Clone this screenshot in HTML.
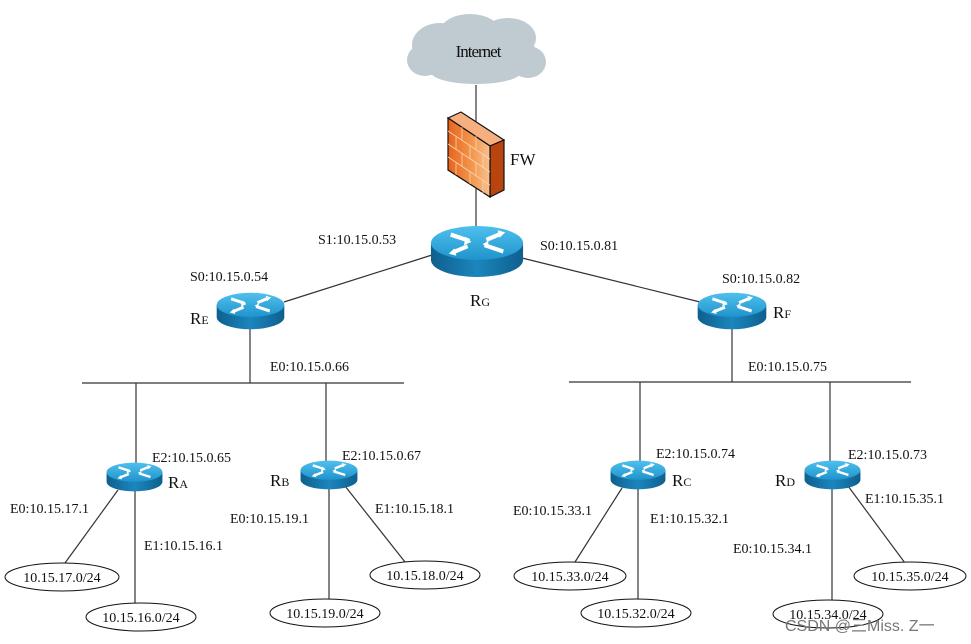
<!DOCTYPE html>
<html><head><meta charset="utf-8"><style>
body{margin:0;background:#fff}
svg text{font-family:"Liberation Serif",serif;font-size:14px;fill:#111}
</style></head><body>
<svg width="971" height="639" viewBox="0 0 971 639" xmlns="http://www.w3.org/2000/svg">
<defs>
<linearGradient id="tg" x1="0" y1="0" x2="0" y2="1"><stop offset="0" stop-color="#4fc0ee"/><stop offset="1" stop-color="#1f93cc"/></linearGradient>
<linearGradient id="bg" x1="0" y1="0" x2="1" y2="0"><stop offset="0" stop-color="#0f5f8e"/><stop offset=".5" stop-color="#1b86bd"/><stop offset="1" stop-color="#0f5f8e"/></linearGradient>
<linearGradient id="fwg" x1="0" y1="0" x2="1" y2="0"><stop offset="0" stop-color="#e8631c"/><stop offset=".6" stop-color="#f39a50"/><stop offset="1" stop-color="#f8c090"/></linearGradient>
<symbol id="rt" viewBox="0 0 100 50" preserveAspectRatio="none">
<path d="M1,17 L1,33 A49,16 0 0 0 99,33 L99,17 Z" fill="url(#bg)"/>
<ellipse cx="50" cy="17" rx="49" ry="16" fill="url(#tg)"/>
<g stroke="#fff" stroke-width="4" fill="#fff">
<line x1="22" y1="9" x2="42" y2="15"/><line x1="58" y1="19" x2="78" y2="25"/>
<line x1="60" y1="14" x2="76" y2="8"/><line x1="24" y1="26" x2="40" y2="20"/>
</g>
<g fill="#fff"><path d="M44,16 L36,19 L38,11Z"/><path d="M56,18 L62,15 L62,22Z"/><path d="M80,7 L72,5 L74,12Z"/><path d="M20,27 L28,29 L26,22Z"/></g>
</symbol>
</defs>
<g stroke="#333" stroke-width="1.2" fill="none">
<line x1="476" y1="85" x2="476" y2="230"/>
<line x1="432" y1="255" x2="284" y2="302"/>
<line x1="522" y1="258" x2="700" y2="302"/>
<line x1="250" y1="325" x2="250" y2="383"/>
<line x1="82" y1="383" x2="404" y2="383"/>
<line x1="732" y1="325" x2="732" y2="382"/>
<line x1="569" y1="382" x2="911" y2="382"/>
<line x1="136" y1="383" x2="136" y2="470"/>
<line x1="326" y1="383" x2="326" y2="468"/>
<line x1="640" y1="382" x2="640" y2="468"/>
<line x1="830" y1="382" x2="830" y2="468"/>
<line x1="118" y1="490" x2="65" y2="563"/><line x1="135" y1="490" x2="135" y2="603"/>
<line x1="329" y1="488" x2="329" y2="600"/><line x1="345" y1="486" x2="405" y2="562"/>
<line x1="622" y1="488" x2="575" y2="562"/><line x1="638" y1="488" x2="638" y2="600"/>
<line x1="832" y1="488" x2="832" y2="603"/><line x1="848" y1="486" x2="905" y2="563"/>
</g>
<!-- cloud -->
<g fill="#bfcbd0">
<ellipse cx="476" cy="52" rx="60" ry="24"/><ellipse cx="440" cy="45" rx="28" ry="22"/><ellipse cx="470" cy="32" rx="30" ry="18"/><ellipse cx="508" cy="38" rx="28" ry="20"/><ellipse cx="425" cy="60" rx="18" ry="16"/><ellipse cx="528" cy="62" rx="18" ry="16"/><ellipse cx="476" cy="72" rx="45" ry="12"/>
</g>
<text x="478" y="57" text-anchor="middle" style="font-size:17px;letter-spacing:-1px">Internet</text>
<!-- firewall -->
<path d="M448,118 L461,112 L504,140 L490,146 Z" fill="#f6b080" stroke="#111" stroke-width="1.2"/>
<path d="M490,146 L504,140 L504,190 L490,197 Z" fill="#b8440e" stroke="#111" stroke-width="1.2"/>
<path d="M448,118 L490,146 L490,197 L448,170 Z" fill="url(#fwg)" stroke="#111" stroke-width="1.2"/>
<g stroke="#fbd4b4" stroke-width="0.8">
<line x1="448" y1="131" x2="490" y2="159"/><line x1="448" y1="144" x2="490" y2="172"/><line x1="448" y1="157" x2="490" y2="185"/>
<line x1="462" y1="127" x2="462" y2="140"/><line x1="476" y1="136" x2="476" y2="149"/>
<line x1="456" y1="137" x2="456" y2="150"/><line x1="470" y1="146" x2="470" y2="159"/><line x1="483" y1="155" x2="483" y2="168"/>
<line x1="462" y1="153" x2="462" y2="166"/><line x1="476" y1="162" x2="476" y2="175"/>
<line x1="456" y1="163" x2="456" y2="175"/><line x1="470" y1="172" x2="470" y2="184"/><line x1="483" y1="181" x2="483" y2="193"/>
</g>
<text x="510" y="165" style="font-size:17px">FW</text>
<!-- routers -->
<use href="#rt" x="430" y="225" width="94" height="53"/>
<use href="#rt" x="216" y="292" width="69" height="38"/>
<use href="#rt" x="697" y="292" width="70" height="38"/>
<use href="#rt" x="106" y="462" width="57" height="30"/>
<use href="#rt" x="300" y="460" width="58" height="30"/>
<use href="#rt" x="610" y="460" width="56" height="30"/>
<use href="#rt" x="804" y="460" width="57" height="30"/>
<!-- router labels -->
<text x="470" y="306" style="font-size:17px">R<tspan style="font-size:12px">G</tspan></text>
<text x="190" y="324" style="font-size:17px">R<tspan style="font-size:12px">E</tspan></text>
<text x="773" y="318" style="font-size:17px">R<tspan style="font-size:12px">F</tspan></text>
<text x="168" y="488" style="font-size:17px">R<tspan style="font-size:12px">A</tspan></text>
<text x="270" y="486" style="font-size:17px">R<tspan style="font-size:12px">B</tspan></text>
<text x="672" y="486" style="font-size:17px">R<tspan style="font-size:12px">C</tspan></text>
<text x="775" y="486" style="font-size:17px">R<tspan style="font-size:12px">D</tspan></text>
<!-- interface labels -->
<text x="318" y="244">S1:10.15.0.53</text>
<text x="540" y="250">S0:10.15.0.81</text>
<text x="190" y="281">S0:10.15.0.54</text>
<text x="722" y="283">S0:10.15.0.82</text>
<text x="270" y="371">E0:10.15.0.66</text>
<text x="748" y="371">E0:10.15.0.75</text>
<text x="152" y="462">E2:10.15.0.65</text>
<text x="342" y="460">E2:10.15.0.67</text>
<text x="656" y="458">E2:10.15.0.74</text>
<text x="848" y="459">E2:10.15.0.73</text>
<text x="10" y="513">E0:10.15.17.1</text>
<text x="144" y="550">E1:10.15.16.1</text>
<text x="230" y="523">E0:10.15.19.1</text>
<text x="375" y="513">E1:10.15.18.1</text>
<text x="513" y="515">E0:10.15.33.1</text>
<text x="650" y="523">E1:10.15.32.1</text>
<text x="733" y="553">E0:10.15.34.1</text>
<text x="865" y="503">E1:10.15.35.1</text>
<!-- subnets -->
<g fill="#fff" stroke="#111" stroke-width="1">
<ellipse cx="62" cy="577" rx="57" ry="14"/><ellipse cx="141" cy="617" rx="55" ry="14"/>
<ellipse cx="325" cy="613" rx="55" ry="14"/><ellipse cx="425" cy="575" rx="55" ry="14"/>
<ellipse cx="570" cy="576" rx="56" ry="14"/><ellipse cx="636" cy="613" rx="55" ry="14"/>
<ellipse cx="828" cy="614" rx="55" ry="14"/><ellipse cx="910" cy="576" rx="56" ry="14"/>
</g>
<g text-anchor="middle">
<text x="62" y="582">10.15.17.0/24</text><text x="141" y="622">10.15.16.0/24</text>
<text x="325" y="618">10.15.19.0/24</text><text x="425" y="580">10.15.18.0/24</text>
<text x="570" y="581">10.15.33.0/24</text><text x="636" y="618">10.15.32.0/24</text>
<text x="828" y="619">10.15.34.0/24</text><text x="910" y="581">10.15.35.0/24</text>
</g>
<text x="785" y="631" style="font-family:'Liberation Sans','Noto Sans CJK SC',sans-serif;font-size:16px;fill:#777">CSDN @三Miss. Z一</text>
</svg>
</body></html>
